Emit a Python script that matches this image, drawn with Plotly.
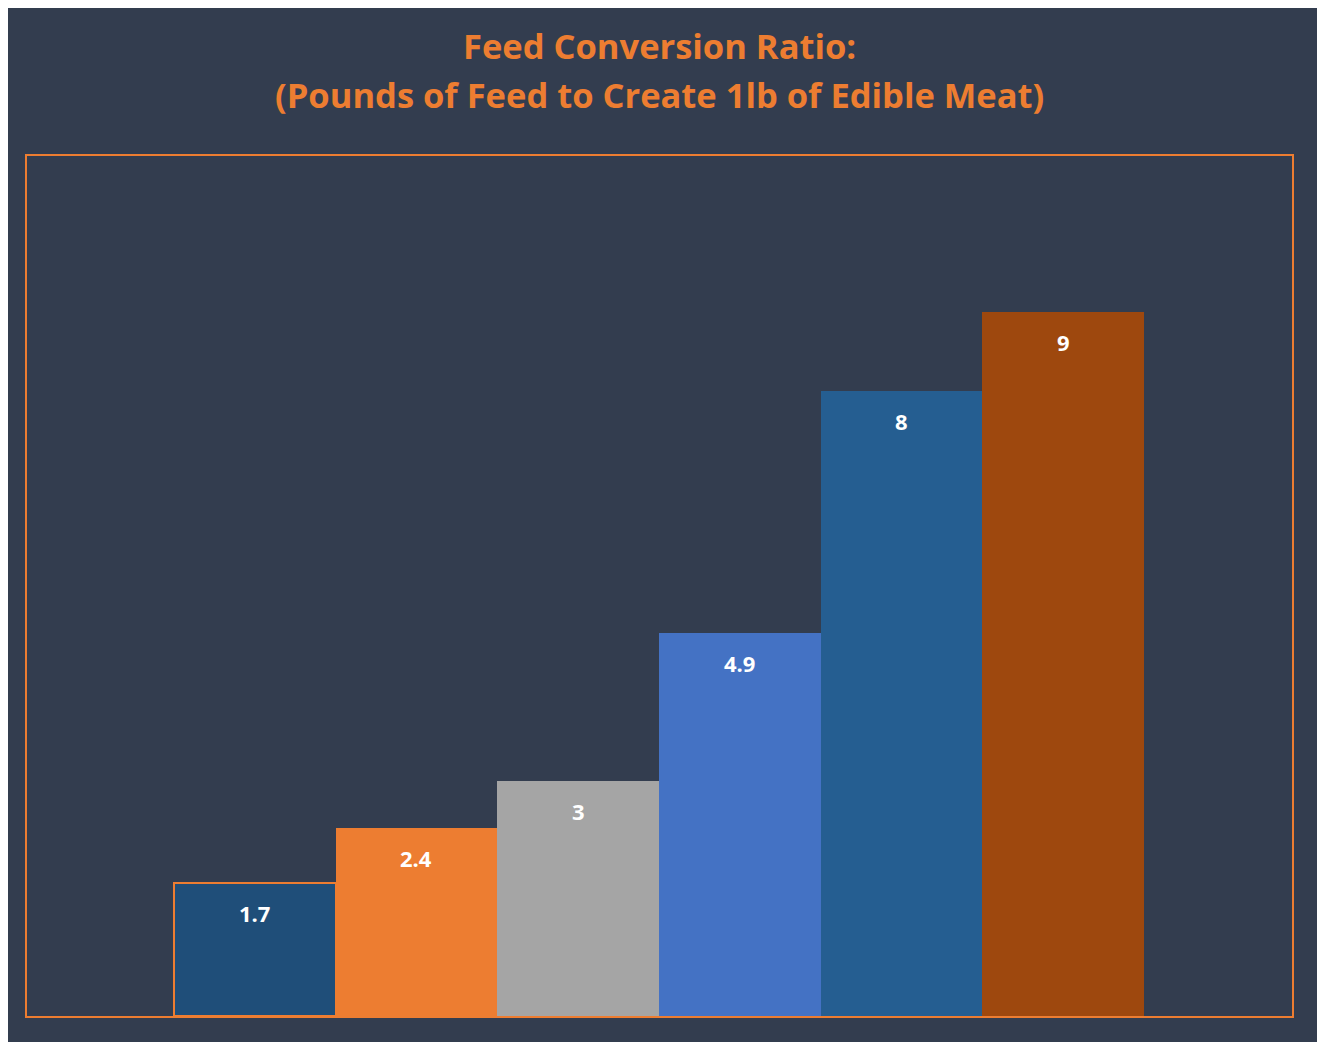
import plotly.graph_objects as go

animals = ['Salmon', 'Chicken', 'Rabbit', 'Pig', 'Sheep', 'Cow']
feed_ratio = [1.7, 2.4, 3, 4.9, 8, 9]
bar_colors = ['#1F4E79', '#ED7D31', '#A5A5A5', '#4472C4', '#255E91', '#9E480E']
bar_outlines = ['#ED7D31', '#ED7D31', '#A5A5A5', '#4472C4', '#255E91', '#9E480E']

orange = '#ED7D31'
bg = '#333D4F'

fig = go.Figure()
fig.add_trace(go.Bar(
    x=animals,
    y=feed_ratio,
    marker=dict(color=bar_colors, line=dict(color=bar_outlines, width=[2, 0, 0, 0, 0, 0])),
    hoverinfo='x+y',
))

# value labels just under the top of each bar
for a, v in zip(animals, feed_ratio):
    fig.add_annotation(
        x=a, y=v, yshift=-30, showarrow=False,
        text=str(v),
        font=dict(family='Open Sans', size=22, color='white', weight='bold'),
    )

# two-line title
fig.add_annotation(
    xref='paper', yref='paper', x=0.5, y=1.129, yanchor='middle', showarrow=False,
    text='Feed Conversion Ratio:',
    font=dict(family='Open Sans', size=34.5, color=orange, weight='bold'),
)
fig.add_annotation(
    xref='paper', yref='paper', x=0.5, y=1.071, yanchor='middle', showarrow=False,
    text='(Pounds of Feed to Create 1lb of Edible Meat)',
    font=dict(family='Open Sans', size=34.5, color=orange, weight='bold'),
)

fig.update_layout(
    width=1309,
    height=1034,
    margin=dict(l=19, r=25, t=148, b=26),
    paper_bgcolor=bg,
    plot_bgcolor=bg,
    bargap=0,
    showlegend=False,
    xaxis=dict(range=[-1.409, 6.415], showticklabels=False, showgrid=False, zeroline=False,
               showline=True, linecolor=orange, linewidth=2, mirror=True),
    yaxis=dict(range=[0, 11], showticklabels=False, showgrid=False, zeroline=False,
               showline=True, linecolor=orange, linewidth=2, mirror=True),
)

fig.write_html('out.html')
